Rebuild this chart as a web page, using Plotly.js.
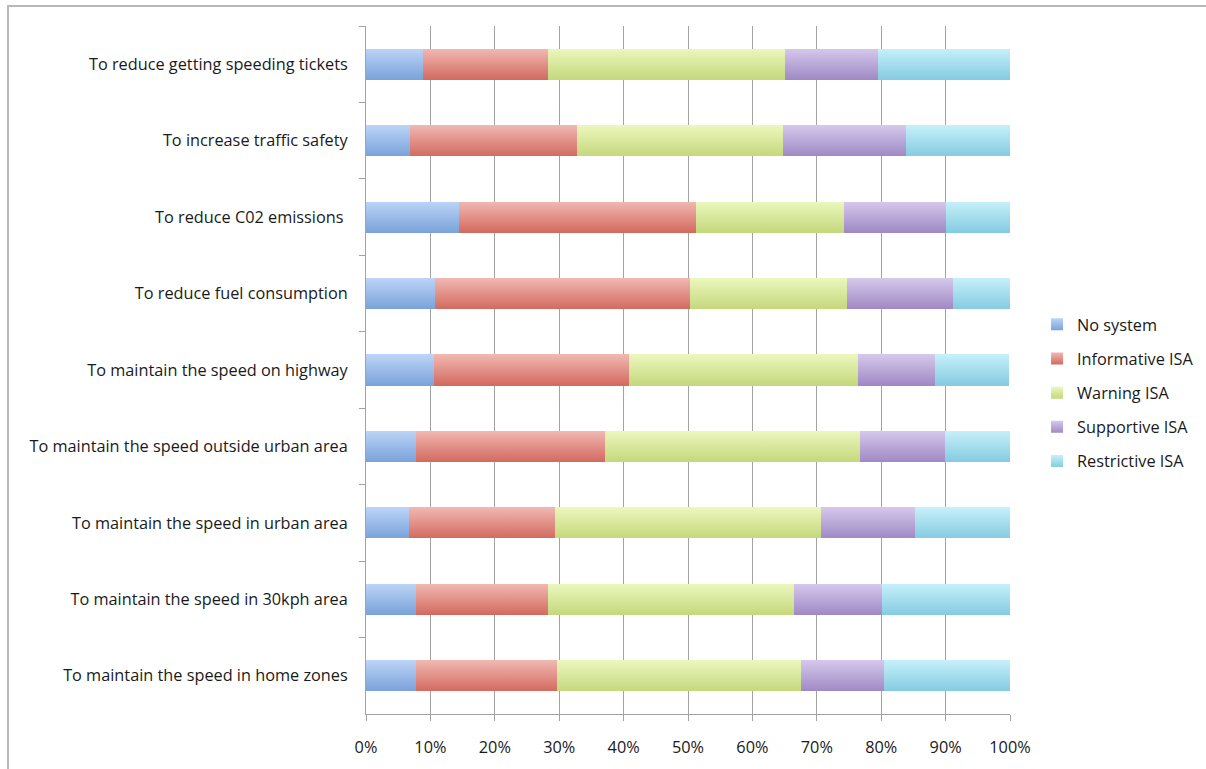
<!DOCTYPE html>
<html>
<head>
<meta charset="utf-8">
<script src="https://cdn.plot.ly/plotly-3.0.1.min.js"></script>
<style>
  html, body { margin: 0; padding: 0; background: #ffffff; }
  #wrap { position: relative; width: 1206px; height: 769px; overflow: hidden; }
  #chart { position: absolute; left: 0; top: 0; width: 1206px; height: 769px; }
  #frame { position: absolute; left: 7px; top: 5px; width: 1300px; height: 900px;
           border-left: 2px solid #b8b8b8; border-top: 2px solid #b8b8b8; pointer-events: none; }
</style>
</head>
<body>
<div id="wrap">
  <div id="chart"></div>
  <div id="frame"></div>
</div>
<script>
// Reasons for choosing a speed-assistance system, share of respondents (%)
const categories = [
  "To reduce getting speeding tickets",
  "To increase traffic safety",
  "To reduce C02 emissions ",
  "To reduce fuel consumption",
  "To maintain the speed on highway",
  "To maintain the speed outside urban area",
  "To maintain the speed in urban area",
  "To maintain the speed in 30kph area",
  "To maintain the speed in home zones"
];

const seriesNames = ["No system", "Informative ISA", "Warning ISA", "Supportive ISA", "Restrictive ISA"];

const noSystem    = [8.8, 6.9, 14.5, 10.7, 10.6, 7.7, 6.7, 7.8, 7.8];
const informative = [19.5, 25.9, 36.8, 39.6, 30.2, 29.4, 22.7, 20.5, 21.8];
const warning     = [36.8, 32.0, 23.0, 24.4, 35.6, 39.6, 41.2, 38.1, 37.9];
const supportive  = [14.4, 19.1, 15.8, 16.4, 11.9, 13.2, 14.7, 13.8, 12.9];
const restrictive = [20.5, 16.1, 10.0, 8.9, 11.6, 10.1, 14.8, 19.8, 19.6];

const tickVals   = [0, 10, 20, 30, 40, 50, 60, 70, 80, 90, 100];
const tickLabels = ["0%", "10%", "20%", "30%", "40%", "50%", "60%", "70%", "80%", "90%", "100%"];

// flat colours plus top/bottom shades for the bar gradients
const baseColors = ["#95b3e6", "#e08d84", "#d6e79c", "#b8a6d8", "#a4dcec"];
const gradTop    = ["#bcd4f7", "#f1b8b2", "#ecf7bd", "#d5c8ec", "#c6f0fa"];
const gradBottom = ["#7aa2da", "#d26a5f", "#c4d87c", "#9f89c4", "#85cbe1"];

const values = [noSystem, informative, warning, supportive, restrictive];

const traces = values.map((v, i) => ({
  type: "bar",
  orientation: "h",
  name: seriesNames[i],
  x: v,
  y: categories,
  legendgroup: "g" + i,
  marker: { color: baseColors[i], line: { width: 0 } },
  hoverinfo: "name+x"
}));

const font = "'Open Sans', Lato, sans-serif";
const fsize = 16.3;

const layout = {
  width: 1206,
  height: 769,
  paper_bgcolor: "rgba(0,0,0,0)",
  plot_bgcolor: "rgba(0,0,0,0)",
  margin: { l: 366, r: 196, t: 26, b: 55, pad: 0, autoexpand: false },
  barmode: "stack",
  bargap: 0.594,
  showlegend: true,
  font: { family: font, size: fsize, color: "#1a1a1a" },
  xaxis: {
    range: [0, 100],
    tickvals: tickVals,
    ticktext: tickLabels,
    showgrid: true,
    gridcolor: "#a3a3a3",
    gridwidth: 1,
    zeroline: false,
    showline: true,
    linecolor: "#a3a3a3",
    linewidth: 1,
    ticks: "outside",
    ticklen: 6,
    tickcolor: "#a3a3a3",
    ticklabelstandoff: 12,
    tickfont: { family: font, size: fsize, color: "#1a1a1a" },
    fixedrange: true
  },
  yaxis: {
    type: "category",
    autorange: "reversed",
    showgrid: false,
    zeroline: false,
    showline: true,
    linecolor: "#a3a3a3",
    linewidth: 1,
    ticks: "outside",
    tickson: "boundaries",
    ticklen: 6,
    tickcolor: "#a3a3a3",
    ticklabelstandoff: 14,
    tickfont: { family: font, size: fsize, color: "#1a1a1a" },
    fixedrange: true
  },
  legend: {
    x: 1.042,
    xanchor: "left",
    y: 0.467,
    yanchor: "middle",
    traceorder: "grouped",
    tracegroupgap: 10,
    itemwidth: 30,
    font: { family: font, size: fsize, color: "#1a1a1a" },
    bgcolor: "rgba(0,0,0,0)"
  }
};

Plotly.newPlot("chart", traces, layout, { displayModeBar: false, staticPlot: true }).then(gd => {
  // vertical gradient fills for bars and legend swatches
  const svg = gd.querySelector("svg.main-svg");
  const ns = "http://www.w3.org/2000/svg";
  let defs = svg.querySelector("defs");
  if (!defs) { defs = document.createElementNS(ns, "defs"); svg.insertBefore(defs, svg.firstChild); }
  baseColors.forEach((c, i) => {
    const g = document.createElementNS(ns, "linearGradient");
    g.setAttribute("id", "barGrad" + i);
    g.setAttribute("x1", "0"); g.setAttribute("y1", "0");
    g.setAttribute("x2", "0"); g.setAttribute("y2", "1");
    [[0, gradTop[i]], [1, gradBottom[i]]].forEach(([o, col]) => {
      const s = document.createElementNS(ns, "stop");
      s.setAttribute("offset", o);
      s.setAttribute("stop-color", col);
      g.appendChild(s);
    });
    defs.appendChild(g);
  });
  gd.querySelectorAll(".barlayer .trace.bars").forEach((tr, i) => {
    tr.querySelectorAll("path").forEach(p => { p.style.fill = "url(#barGrad" + i + ")"; });
  });
  gd.querySelectorAll(".legend .traces").forEach((tr, i) => {
    tr.querySelectorAll(".legendpoints path").forEach(p => { p.style.fill = "url(#barGrad" + i + ")"; p.style.stroke = "none"; });
  });
});
</script>
</body>
</html>
